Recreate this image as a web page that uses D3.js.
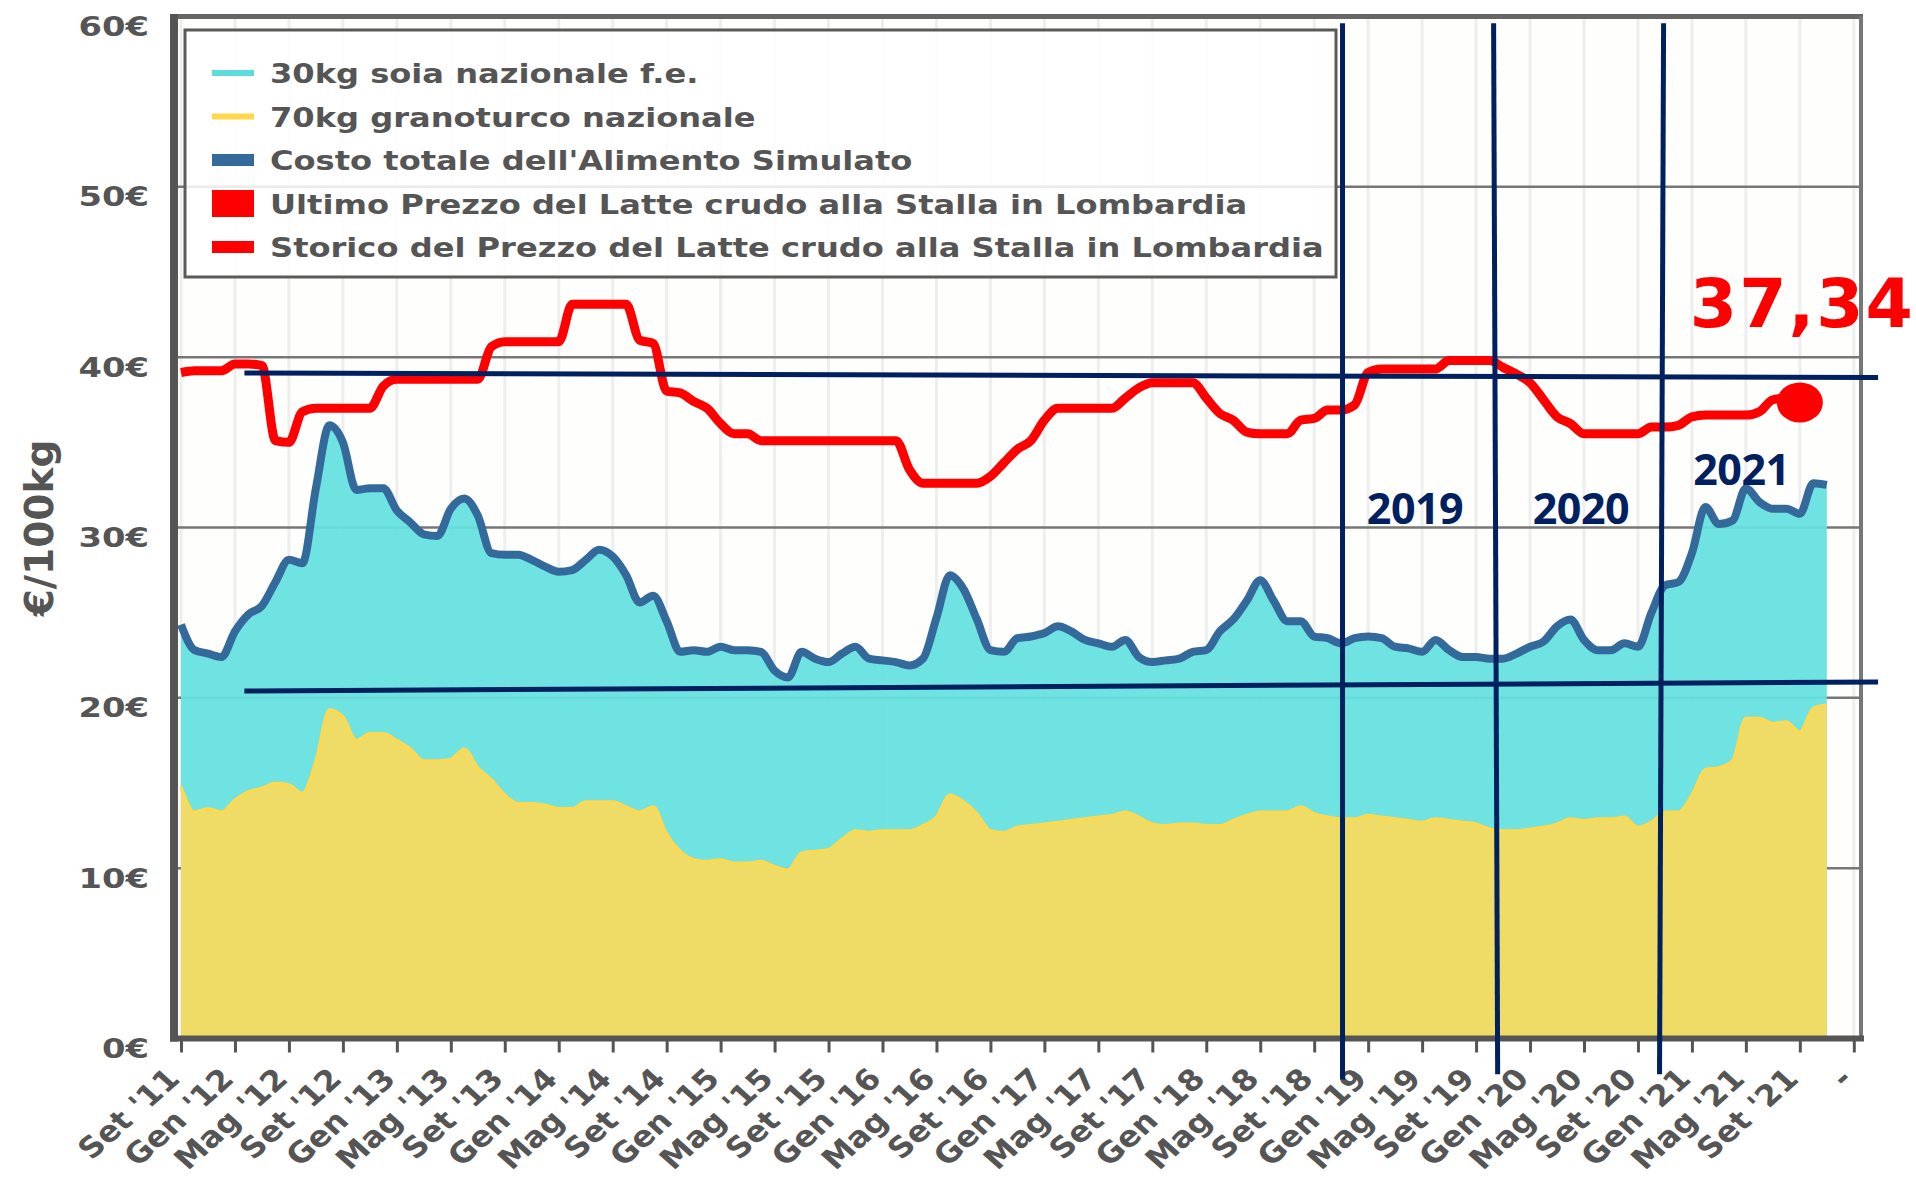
<!DOCTYPE html>
<html>
<head>
<meta charset="utf-8">
<script src="https://cdn.jsdelivr.net/npm/d3@7"></script>
<style>
  body { margin: 0; background: #fff; }
  svg text { font-family: "DejaVu Sans", Verdana, sans-serif; font-weight: bold; }
</style>
</head>
<body>
<div id="chart"></div>
<script>
// x axis: one tick every 4 months, starting Set '11
const tickLabels = ["Set '11", "Gen '12", "Mag '12", "Set '12", "Gen '13", "Mag '13", "Set '13",
  "Gen '14", "Mag '14", "Set '14", "Gen '15", "Mag '15", "Set '15", "Gen '16", "Mag '16", "Set '16",
  "Gen '17", "Mag '17", "Set '17", "Gen '18", "Mag '18", "Set '18", "Gen '19", "Mag '19", "Set '19",
  "Gen '20", "Mag '20", "Set '20", "Gen '21", "Mag '21", "Set '21", "-"];
const yTicks = [0, 10, 20, 30, 40, 50, 60];

// monthly values, €/100kg, from Set '11
const totalValues = [24.3, 22.8, 22.6, 22.4, 23.9, 24.9, 25.4, 26.8, 28.1, 27.9,
  32.3, 36.0, 35.0, 32.2, 32.3, 32.3, 31.0, 30.3, 29.6, 29.5,
  31.1, 31.7, 30.7, 28.5, 28.4, 28.4, 28.1, 27.7, 27.4, 27.5,
  28.1, 28.7, 28.3, 27.2, 25.6, 26.0, 24.5, 22.7, 22.8, 22.7,
  23.0, 22.8, 22.8, 22.7, 21.6, 21.2, 22.7, 22.3, 22.1, 22.6,
  23.0, 22.3, 22.2, 22.1, 21.9, 22.3, 24.7, 27.2, 26.4, 24.6,
  22.8, 22.7, 23.5, 23.6, 23.8, 24.2, 23.9, 23.4, 23.2, 23.0,
  23.4, 22.4, 22.1, 22.2, 22.3, 22.7, 22.8, 23.9, 24.6, 25.7,
  26.9, 25.7, 24.5, 24.5, 23.6, 23.5, 23.2, 23.5, 23.6, 23.5,
  23.0, 22.9, 22.7, 23.4, 22.8, 22.4, 22.4, 22.3, 22.3, 22.6,
  23.0, 23.3, 24.2, 24.6, 23.4, 22.8, 22.8, 23.2, 23.0, 25.0,
  26.6, 26.8, 28.5, 31.2, 30.2, 30.4, 32.3, 31.5, 31.1, 31.1,
  30.8, 32.6, 32.5];

const cornValues = [14.8, 13.3, 13.5, 13.3, 14.0, 14.5, 14.7, 15.0, 14.9, 14.4,
  16.3, 19.3, 18.9, 17.5, 17.9, 17.9, 17.5, 17.0, 16.3, 16.3,
  16.4, 17.0, 15.9, 15.2, 14.3, 13.8, 13.8, 13.7, 13.5, 13.5,
  13.9, 13.9, 13.9, 13.6, 13.3, 13.6, 12.0, 11.0, 10.5, 10.4,
  10.5, 10.3, 10.3, 10.4, 10.1, 9.9, 10.9, 11.0, 11.1, 11.7,
  12.2, 12.1, 12.2, 12.2, 12.2, 12.5, 13.0, 14.3, 13.9, 13.2,
  12.2, 12.1, 12.4, 12.5, 12.6, 12.7, 12.8, 12.9, 13.0, 13.1,
  13.3, 13.0, 12.6, 12.5, 12.6, 12.6, 12.5, 12.5, 12.8, 13.1,
  13.3, 13.3, 13.3, 13.6, 13.2, 13.0, 12.9, 12.9, 13.1, 13.0,
  12.9, 12.8, 12.7, 12.9, 12.8, 12.7, 12.6, 12.3, 12.2, 12.2,
  12.3, 12.4, 12.6, 12.9, 12.8, 12.9, 12.9, 13.0, 12.4, 12.7,
  13.3, 13.3, 14.3, 15.8, 15.9, 16.3, 18.8, 18.8, 18.5, 18.6,
  18.0, 19.4, 19.6];

const milkValues = [39.1, 39.2, 39.2, 39.2, 39.6, 39.6, 39.5, 35.1, 35.0, 36.8,
  37.0, 37.0, 37.0, 37.0, 37.0, 38.3, 38.7, 38.7, 38.7, 38.7,
  38.7, 38.7, 38.7, 40.6, 40.9, 40.9, 40.9, 40.9, 40.9, 43.1,
  43.1, 43.1, 43.1, 43.1, 41.0, 40.8, 38.0, 37.9, 37.4, 37.0,
  36.1, 35.5, 35.5, 35.1, 35.1, 35.1, 35.1, 35.1, 35.1, 35.1,
  35.1, 35.1, 35.1, 35.1, 33.4, 32.6, 32.6, 32.6, 32.6, 32.6,
  33.0, 33.8, 34.6, 35.1, 36.3, 37.0, 37.0, 37.0, 37.0, 37.0,
  37.6, 38.2, 38.5, 38.5, 38.5, 38.5, 37.6, 36.7, 36.3, 35.6,
  35.5, 35.5, 35.5, 36.3, 36.4, 36.9, 36.9, 37.2, 39.1, 39.3,
  39.3, 39.3, 39.3, 39.3, 39.8, 39.8, 39.8, 39.8, 39.4, 39.0,
  38.5, 37.5, 36.5, 36.1, 35.5, 35.5, 35.5, 35.5, 35.5, 35.9,
  35.9, 36.0, 36.5, 36.6, 36.6, 36.6, 36.6, 36.8, 37.5, 37.6,
  37.34];

const lastMilkLabel = "37,34";

const legendLabels = ["30kg soia nazionale f.e.", "70kg granoturco nazionale",
  "Costo totale dell'Alimento Simulato", "Ultimo Prezzo del Latte crudo alla Stalla in Lombardia",
  "Storico del Prezzo del Latte crudo alla Stalla in Lombardia"];

// hand-drawn overlay: year markers and two reference lines (month index, €)
const yearLabels = ["2019", "2020", "2021"];
const yearLabelPos = [[87.9, 30.2], [100.2, 30.2], [112.1, 32.5]];
const vMarks = [[86.1, 59.6, 86.1, -2.4], [97.3, 59.6, 97.6, -2.1], [109.9, 59.6, 109.6, -2.1]];
const hMarks = [[4.7, 39.07, 125.8, 38.8], [4.7, 20.4, 125.8, 20.93]];

const WIDTH = 1916, HEIGHT = 1181;
const GREY = "#555";

const svg = d3.select("#chart").append("svg")
    .attr("width", WIDTH)
    .attr("height", HEIGHT);

const X = d3.scaleLinear().domain([0, 124]).range([181, 1853.8]);
const Y = d3.scaleLinear().domain([0, 60]).range([1038.5, 16.5]);

const tickMonths = tickLabels.map((d, i) => i * 4);

// plot background + grid
svg.append("rect")
    .attr("x", 174).attr("y", Y(60))
    .attr("width", 1861 - 174).attr("height", Y(0) - Y(60))
    .attr("fill", "#fefefd");

svg.append("g").selectAll("line")
    .data(tickMonths)
    .enter().append("line")
        .attr("x1", d => X(d)).attr("x2", d => X(d))
        .attr("y1", Y(60)).attr("y2", Y(0))
        .attr("stroke", "#eeeeee").attr("stroke-width", 3);

svg.append("g").selectAll("line")
    .data(yTicks.filter(d => d > 0 && d < 60))
    .enter().append("line")
        .attr("x1", 174).attr("x2", 1861)
        .attr("y1", d => Y(d)).attr("y2", d => Y(d))
        .attr("stroke", "#777").attr("stroke-width", 2.5);

// areas
const totalArea = d3.area()
    .x((d, i) => X(i)).y0(Y(0)).y1(d => Y(d))
    .curve(d3.curveMonotoneX);

svg.append("path")
    .datum(totalValues)
    .attr("d", totalArea)
    .attr("fill", "#66e0e0")
    .attr("fill-opacity", 0.94);

svg.append("path")
    .datum(cornValues)
    .attr("d", totalArea)
    .attr("fill", "#eedc66");

const line = d3.line()
    .x((d, i) => X(i)).y(d => Y(d))
    .curve(d3.curveMonotoneX);

svg.append("path")
    .datum(cornValues)
    .attr("d", line)
    .attr("fill", "none")
    .attr("stroke", "#ffd84d")
    .attr("stroke-width", 3);

svg.append("path")
    .datum(totalValues)
    .attr("d", line)
    .attr("fill", "none")
    .attr("stroke", "#346a9b")
    .attr("stroke-width", 8)
    .attr("stroke-linejoin", "round");

svg.append("path")
    .datum(milkValues)
    .attr("d", line)
    .attr("fill", "none")
    .attr("stroke", "#ff0000")
    .attr("stroke-width", 9)
    .attr("stroke-linejoin", "round");

const lastIdx = milkValues.length - 1;
svg.append("ellipse")
    .attr("cx", X(lastIdx)).attr("cy", Y(milkValues[lastIdx]))
    .attr("rx", 23).attr("ry", 20)
    .attr("fill", "#ff0000");

// frame
svg.append("line").attr("x1", 172).attr("x2", 1863).attr("y1", Y(60)).attr("y2", Y(60))
    .attr("stroke", "#666").attr("stroke-width", 5);
svg.append("line").attr("x1", 1861).attr("x2", 1861).attr("y1", Y(60)).attr("y2", Y(0))
    .attr("stroke", "#777").attr("stroke-width", 4);
svg.append("line").attr("x1", 174).attr("x2", 174).attr("y1", 14).attr("y2", Y(0) + 3)
    .attr("stroke", GREY).attr("stroke-width", 8);
svg.append("line").attr("x1", 170).attr("x2", 1864).attr("y1", Y(0)).attr("y2", Y(0))
    .attr("stroke", GREY).attr("stroke-width", 6);

// axes
svg.append("g")
    .attr("transform", "translate(0," + Y(0) + ")")
    .call(d3.axisBottom(X).tickValues(tickMonths).tickFormat((d, i) => tickLabels[i]).tickSize(14))
    .call(g => g.select(".domain").remove())
    .call(g => g.selectAll(".tick line").attr("stroke", GREY).attr("stroke-width", 3))
    .call(g => g.selectAll(".tick text")
        .attr("x", 0).attr("y", 0).attr("dy", 0)
        .attr("text-anchor", "end")
        .attr("transform", "translate(0,42) scale(1.12,1) rotate(-45)")
        .attr("fill", GREY)
        .attr("font-size", 29));

svg.append("g")
    .attr("transform", "translate(174,0)")
    .call(d3.axisLeft(Y).tickValues(yTicks).tickFormat(d => d + "€").tickSize(0))
    .call(g => g.select(".domain").remove())
    .call(g => g.selectAll(".tick text")
        .attr("x", 0).attr("dy", 0)
        .attr("text-anchor", "end")
        .attr("transform", "translate(-25,19) scale(1.25,1)")
        .attr("fill", GREY)
        .attr("font-size", 27));

svg.append("text")
    .attr("transform", "translate(53,528) rotate(-90)")
    .attr("text-anchor", "middle")
    .attr("fill", GREY)
    .attr("font-size", 39)
    .text("€/100kg");

// legend
const legend = svg.append("g");
legend.append("rect")
    .attr("x", 185).attr("y", 30).attr("width", 1151).attr("height", 247)
    .attr("fill", "#fff").attr("fill-opacity", 0.85)
    .attr("stroke", "#5a5a5a").attr("stroke-width", 3);

const legendSwatch = [
    {color: "#5ddcdc", h: 6},
    {color: "#ffd84d", h: 6},
    {color: "#346a9b", h: 12},
    {color: "#ff0000", h: 27},
    {color: "#ff0000", h: 12}
];
const rowY = d3.scaleLinear().domain([0, 4]).range([73, 247]);

legendLabels.forEach((label, i) => {
    legend.append("rect")
        .attr("x", 212).attr("y", rowY(i) - legendSwatch[i].h / 2)
        .attr("width", 42).attr("height", legendSwatch[i].h)
        .attr("fill", legendSwatch[i].color);
    legend.append("text")
        .attr("transform", "translate(270," + (rowY(i) + 10) + ") scale(1.19,1)")
        .attr("fill", GREY)
        .attr("font-size", 27)
        .text(label);
});

// hand-drawn overlay
const NAVY = "#002060";
svg.append("g").selectAll("line")
    .data(vMarks.concat(hMarks))
    .enter().append("line")
        .attr("x1", d => X(d[0])).attr("y1", d => Y(d[1]))
        .attr("x2", d => X(d[2])).attr("y2", d => Y(d[3]))
        .attr("stroke", NAVY).attr("stroke-width", 5);

svg.append("g").selectAll("text")
    .data(yearLabels)
    .enter().append("text")
        .attr("x", (d, i) => X(yearLabelPos[i][0]))
        .attr("y", (d, i) => Y(yearLabelPos[i][1]))
        .attr("fill", NAVY)
        .attr("font-size", 43)
        .attr("letter-spacing", -0.5)
        .style("font-family", "'Open Sans', Lato, sans-serif")
        .style("font-weight", 700)
        .text(d => d);

svg.append("text")
    .attr("x", X(lastIdx) - 110)
    .attr("y", Y(milkValues[lastIdx]) - 75)
    .attr("fill", "#ff0000")
    .attr("font-size", 68)
    .attr("letter-spacing", 2)
    .text(lastMilkLabel);
</script>
</body>
</html>
